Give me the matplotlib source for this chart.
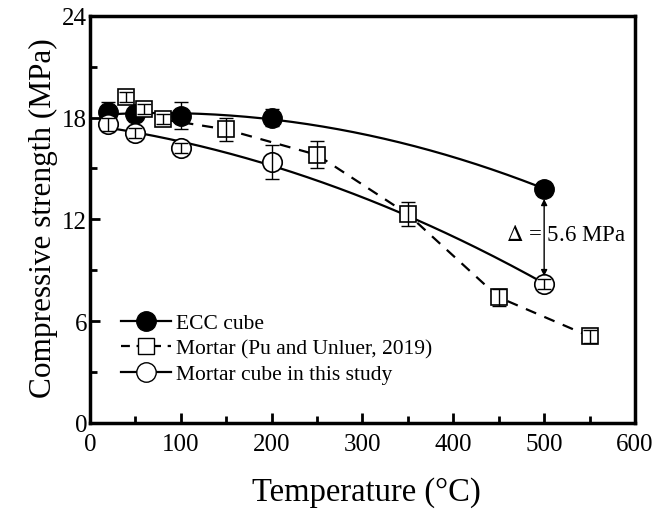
import numpy as np
import matplotlib
matplotlib.use("Agg")
import matplotlib.pyplot as plt
from matplotlib.ticker import MultipleLocator
from matplotlib.lines import Line2D

plt.rcParams['font.family'] = ['Liberation Serif', 'DejaVu Serif']
plt.rcParams['mathtext.fontset'] = 'stix'

# ECC cube
ecc_t = [20, 50, 100, 200, 500]
ecc_s = [18.3, 18.2, 18.1, 18.0, 13.8]
ecc_e = [0.6, 0.4, 0.8, 0.5, 0.4]

# Mortar (Pu and Unluer, 2019)
pu_t = [40, 60, 80, 150, 250, 350, 450, 550]
pu_s = [19.2, 18.5, 17.9, 17.3, 15.8, 12.3, 7.4, 5.1]
pu_e = [0.3, 0.3, 0.3, 0.7, 0.8, 0.7, 0.5, 0.4]

# Mortar cube in this study
mc_t = [20, 50, 100, 200, 500]
mc_s = [17.6, 17.1, 16.2, 15.4, 8.2]
mc_e = [0.4, 0.3, 0.3, 1.0, 0.3]

x_ticks = [0, 100, 200, 300, 400, 500, 600]
y_ticks = [0, 6, 12, 18, 24]

fig = plt.figure(figsize=(6.56, 5.10), dpi=100)
ax = fig.add_axes([0.137, 0.169, 0.831, 0.798])

# quadratic trend lines for the two cube series
tt = np.linspace(20, 500, 200)
ecc_fit = np.polyval(np.polyfit(ecc_t, ecc_s, 2), tt)
mc_fit = np.polyval(np.polyfit(mc_t, mc_s, 2), tt)
ax.plot(tt, ecc_fit, color='black', lw=1.6, zorder=2)
ax.plot(tt, mc_fit, color='black', lw=1.6, zorder=2)
ax.plot(pu_t[2:], pu_s[2:], color='black', lw=1.6, ls=(0, (5, 4)), zorder=2)

ax.errorbar(ecc_t, ecc_s, yerr=ecc_e, fmt='none', ecolor='black', elinewidth=1, capsize=5, zorder=3)

ax.plot(ecc_t, ecc_s, 'o', ms=14, mfc='black', mec='black', zorder=3)
ax.plot(pu_t, pu_s, 's', ms=12, mfc='white', mec='black', mew=1.2, zorder=4)
ax.plot(mc_t, mc_s, 'o', ms=14, mfc='white', mec='black', mew=1.2, zorder=4)
# error bars drawn over the open markers
ax.errorbar(pu_t, pu_s, yerr=pu_e, fmt='none', ecolor='black', elinewidth=1, capsize=5, zorder=6)
ax.errorbar(mc_t, mc_s, yerr=mc_e, fmt='none', ecolor='black', elinewidth=1, capsize=5, zorder=6)

# difference between ECC and mortar cube at 500 °C
ax.annotate('', xy=(500, ecc_s[-1] - 0.6), xytext=(500, mc_s[-1] + 0.45),
            arrowprops=dict(arrowstyle='<|-|>', color='black', lw=1,
                            mutation_scale=9, shrinkA=0, shrinkB=0), zorder=7)
ax.text(524, 11.1, r'$\Delta$ = %.1f MPa' % (ecc_s[-1] - mc_s[-1]),
        fontsize=16.5, ha='center', va='center', zorder=8)

handles = [
    Line2D([], [], color='black', lw=1.6, marker='o', ms=14, mfc='black', mec='black'),
    Line2D([], [], color='black', lw=1.6, ls=(0, (4, 3)), marker='s', ms=12, mfc='white', mec='black'),
    Line2D([], [], color='black', lw=1.6, marker='o', ms=14, mfc='white', mec='black'),
]
labels = ['ECC cube', 'Mortar (Pu and Unluer, 2019)', 'Mortar cube in this study']
ax.legend(handles, labels, loc='lower left', bbox_to_anchor=(0.042, 0.074), frameon=False,
          fontsize=15.5, handlelength=2.3, handletextpad=0.25, labelspacing=0.25, borderaxespad=0)

ax.set_xlim(0, 600)
ax.set_ylim(0, 24)
ax.set_xticks(x_ticks)
ax.set_yticks(y_ticks)
ax.xaxis.set_minor_locator(MultipleLocator(50))
ax.yaxis.set_minor_locator(MultipleLocator(3))
ax.tick_params(which='both', direction='in', width=2, labelsize=18, top=False, right=False)
ax.tick_params(axis='x', pad=7)
ax.tick_params(axis='y', pad=2)
ax.tick_params(which='major', length=7)
ax.tick_params(which='minor', length=5)
for s in ax.spines.values():
    s.set_linewidth(2.5)

ax.set_xlabel('Temperature (°C)', fontsize=23.5, va='center')
ax.xaxis.set_label_coords(0.508, -0.168)
ax.set_ylabel('Compressive strength (MPa)', fontsize=22.5, va='center')
ax.yaxis.set_label_coords(-0.085, 0.505)

fig.savefig('out.png', dpi=100)
